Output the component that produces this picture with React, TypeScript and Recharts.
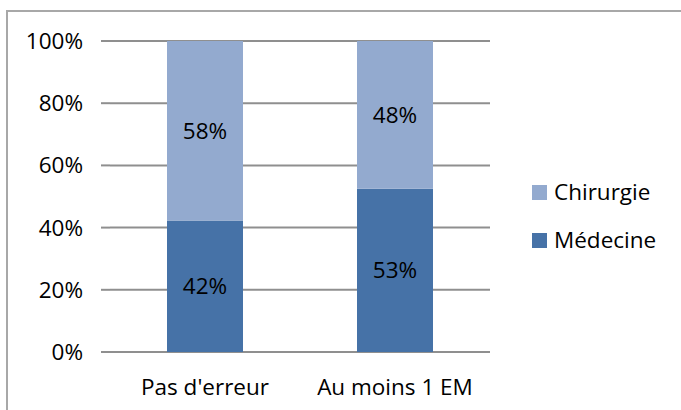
import React from "react";
import { BarChart, Bar, XAxis, YAxis, CartesianGrid, Legend, LabelList } from "recharts";

const categories = ["Pas d'erreur", "Au moins 1 EM"];
const medecine = [42.3, 52.5];
const chirurgie = [57.7, 47.5];
const yTicks = [0, 20, 40, 60, 80, 100];
const edgeTicks = [0, 1, 2];
const legendOrder = ["Chirurgie", "Médecine"];

const data = categories.map((name, i) => ({
  name,
  "Médecine": medecine[i],
  Chirurgie: chirurgie[i],
}));

const COLORS = { med: "#4672A7", chir: "#93AACF" };
const GRID = "#8F8F8F";
const FONT = 22.5;

const renderLegend = (props: any) => {
  const items = (props.payload || [])
    .slice()
    .sort((a: any, b: any) => legendOrder.indexOf(a.value) - legendOrder.indexOf(b.value));
  return (
    <div>
      {items.map((it: any) => (
        <div key={it.value} style={{ display: "flex", alignItems: "center", height: 48 }}>
          <span style={{ display: "inline-block", width: 15, height: 15, background: it.color, marginRight: 7 }} />
          <span style={{ fontSize: FONT, color: "#000", lineHeight: 1 }}>{it.value}</span>
        </div>
      ))}
    </div>
  );
};

export default function App() {
  return (
    <div
      style={{
        position: "fixed",
        left: 0,
        top: 0,
        width: 681,
        height: 410,
        overflow: "hidden",
        background: "#fff",
        fontFamily: "'Open Sans', sans-serif",
      }}
    >
      <div
        style={{
          position: "absolute",
          left: 6,
          top: 10,
          width: 720,
          height: 450,
          border: "2px solid #A8A8A8",
        }}
      />
      <BarChart
        width={681}
        height={410}
        data={data}
        margin={{ top: 41, right: 191, bottom: 0, left: 0 }}
        style={{ position: "absolute", left: 0, top: 0 }}
      >
        <CartesianGrid vertical={false} stroke={GRID} strokeWidth={2} />
        <XAxis
          xAxisId="edges"
          type="number"
          domain={[0, 2]}
          ticks={edgeTicks}
          height={0}
          tickFormatter={() => ""}
          tickSize={9}
          tickLine={{ stroke: GRID, strokeWidth: 2 }}
          axisLine={{ stroke: GRID, strokeWidth: 2 }}
          allowDataOverflow
        />
        <XAxis
          dataKey="name"
          height={58}
          tickLine={false}
          axisLine={false}
          tickSize={9}
          tickMargin={18}
          tick={{ fill: "#000", fontSize: FONT }}
          interval={0}
        />
        <YAxis
          width={110}
          domain={[0, 100]}
          ticks={yTicks}
          tickFormatter={(v: number) => `${v}%`}
          axisLine={false}
          tickSize={9}
          tickMargin={18}
          tickLine={{ stroke: GRID, strokeWidth: 2 }}
          tick={{ fill: "#000", fontSize: FONT }}
        />
        <Legend
          layout="vertical"
          align="center"
          verticalAlign="middle"
          content={renderLegend}
          wrapperStyle={{ left: 532, top: 168, width: 149, height: 96 }}
        />
        <Bar dataKey="Médecine" stackId="a" fill={COLORS.med} barSize={76} isAnimationActive={false}>
          <LabelList
            dataKey="Médecine"
            position="center"
            formatter={(v: any) => `${Math.round(Number(v))}%`}
            style={{ fill: "#000", fontSize: FONT }}
          />
        </Bar>
        <Bar dataKey="Chirurgie" stackId="a" fill={COLORS.chir} barSize={76} isAnimationActive={false}>
          <LabelList
            dataKey="Chirurgie"
            position="center"
            formatter={(v: any) => `${Math.round(Number(v))}%`}
            style={{ fill: "#000", fontSize: FONT }}
          />
        </Bar>
      </BarChart>
    </div>
  );
}
